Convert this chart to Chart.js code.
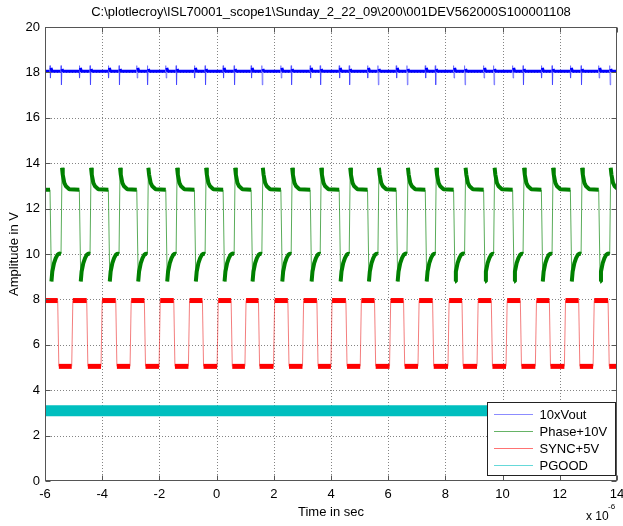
<!DOCTYPE html>
<html><head><meta charset="utf-8">
<style>html,body{margin:0;padding:0;background:#fff;}canvas{display:block;}</style>
<script src="https://cdn.jsdelivr.net/npm/chart.js@4/dist/chart.umd.min.js"></script>
</head><body>
<canvas id="c" width="623" height="526"></canvas>
<script>
// ---------- text ----------
const titleText = "C:\\plotlecroy\\ISL70001_scope1\\Sunday_2_22_09\\200\\001DEV562000S100001108";
const xTitle = "Time in sec";
const yTitle = "Amplitude in V";
const seriesNames = ["10xVout", "Phase+10V", "SYNC+5V", "PGOOD"];

// ---------- ticks ----------
const xTicks = [-6, -4, -2, 0, 2, 4, 6, 8, 10, 12, 14];
const yTicks = [0, 2, 4, 6, 8, 10, 12, 14, 16, 18, 20];

// ---------- SYNC+5V (edge times in µs, levels in V) ----------
const syncFall = [-5.556, -4.541, -3.526, -2.526, -1.497, -0.496, 0.508, 1.463, 2.492, 3.507,
                  4.521, 5.522, 6.537, 7.552, 8.580, 9.605, 10.620, 11.635, 12.660, 13.688];
const syncRise = [-5.066, -4.041, -3.026, -2.011, -0.986, 0.018, 0.990, 1.990, 3.003, 3.997,
                  5.022, 6.047, 7.041, 8.090, 9.105, 10.120, 11.145, 12.160, 13.164];
const syncHigh = 7.95, syncLow = 5.05, syncEdge = 0.04;

// ---------- Phase+10V ----------
const phaseFall = [-5.825, -4.800, -3.785, -2.791, -1.777, -0.776, 0.228, 1.208, 2.247, 3.272,
                   4.287, 5.277, 6.281, 7.296, 8.286, 9.336, 10.351, 11.355, 12.369, 13.360];
const phaseRise = [-5.440, -4.425, -3.411, -2.421, -1.416, -0.402, 0.613, 1.582, 2.607, 3.622,
                   4.637, 5.641, 6.656, 7.646, 8.671, 9.686, 10.715, 11.729, 12.744, 13.745];
// waveform read around each edge (offset after edge, value)
const phaseRiseDt = [0, 0.035, 0.06, 0.115, 0.175, 0.29];
const phaseRiseV  = [10.0, 13.8, 13.5, 13.13, 12.98, 12.85];
const phaseFallDt = [0, 0.05, 0.08, 0.14, 0.2, 0.26, 0.32];
const phaseFallV  = [12.83, 8.79, 9.23, 9.6, 9.82, 9.96, 10.02];
const phaseStart = 12.83;

// ---------- 10xVout ----------
const voutLevel = 18.05;
const voutSpikeDt = [-0.01, 0, 0.015, 0.035, 0.07];
const voutSpikeAtFallV = [18.05, 18.3, 17.75, 18.2, 18.05];
const voutSpikeAtRiseV = [18.05, 18.3, 17.45, 18.15, 18.05];

// ---------- PGOOD ----------
const pgoodT = [-6, 14];
const pgoodV = [3.1, 3.1];

// ---------- build point tables ----------
function buildSync() {
  const ev = syncFall.map(t => [t, 'f']).concat(syncRise.map(t => [t, 'r'])).sort((a, b) => a[0] - b[0]);
  const pts = [{x: -6, y: syncHigh}];
  let lvl = syncHigh;
  for (const [t, k] of ev) {
    if (k === 'f') { pts.push({x: t, y: syncHigh}, {x: t + syncEdge, y: syncLow}); lvl = syncLow; }
    else { pts.push({x: t, y: syncLow}, {x: t + syncEdge, y: syncHigh}); lvl = syncHigh; }
  }
  pts.push({x: 14, y: lvl});
  return pts;
}
function buildPhase() {
  const ev = phaseFall.map(t => [t, 'f']).concat(phaseRise.map(t => [t, 'r'])).sort((a, b) => a[0] - b[0]);
  const pts = [{x: -6, y: phaseStart}];
  let last = phaseStart;
  for (const [t, k] of ev) {
    const dt = k === 'f' ? phaseFallDt : phaseRiseDt;
    const v = k === 'f' ? phaseFallV : phaseRiseV;
    for (let i = 0; i < dt.length; i++) pts.push({x: t + dt[i], y: v[i]});
    last = v[v.length - 1];
  }
  pts.push({x: 14.4, y: last});
  return pts;
}
function buildVout() {
  const ev = phaseFall.map(t => [t, 'f']).concat(phaseRise.map(t => [t, 'r'])).sort((a, b) => a[0] - b[0]);
  const pts = [{x: -6, y: voutLevel}];
  for (const [t, k] of ev) {
    const v = k === 'f' ? voutSpikeAtFallV : voutSpikeAtRiseV;
    for (let i = 0; i < voutSpikeDt.length; i++) pts.push({x: t + voutSpikeDt[i], y: v[i]});
  }
  pts.push({x: 14, y: voutLevel});
  return pts;
}
const pgoodPts = pgoodT.map((t, i) => ({x: t, y: pgoodV[i]}));

const FONT = "'Liberation Sans', Arial, sans-serif";

function seg(band, thick, thin, limit) {
  const steep = c => Math.abs(c.p1.y - c.p0.y) > limit;
  return {
    borderWidth: c => steep(c) ? 1 : band,
    borderColor: c => steep(c) ? thin : thick
  };
}

const colors = ['#0000ff', '#008000', '#ff0000', '#00bfbf'];

const decor = {
  id: 'decor',
  beforeDatasetsDraw(chart) {
    const {ctx, chartArea: a, scales: {x, y}} = chart;
    ctx.save();
    ctx.strokeStyle = 'rgba(110,110,110,0.85)';
    ctx.lineWidth = 1;
    ctx.setLineDash([1, 2]);
    ctx.beginPath();
    xTicks.slice(1, -1).forEach(v => { const p = Math.round(x.getPixelForValue(v)) + 0.5; ctx.moveTo(p, a.top); ctx.lineTo(p, a.bottom); });
    yTicks.slice(1, -1).forEach(v => { const p = Math.round(y.getPixelForValue(v)) + 0.5; ctx.moveTo(a.left, p); ctx.lineTo(a.right, p); });
    ctx.stroke();
    ctx.restore();
  },
  afterDatasetsDraw(chart) {
    const {ctx, chartArea: a, scales: {x, y}} = chart;
    ctx.save();
    ctx.strokeStyle = '#555';
    ctx.lineWidth = 1;
    ctx.setLineDash([]);
    const L = Math.round(a.left) + 0.5, R = Math.round(a.right) - 0.5, T = Math.round(a.top) + 0.5, B = Math.round(a.bottom) - 0.5;
    ctx.strokeRect(L, T, R - L, B - T);
    ctx.beginPath();
    xTicks.forEach(v => { const p = Math.round(x.getPixelForValue(v)) + 0.5; ctx.moveTo(p, B); ctx.lineTo(p, B - 5); ctx.moveTo(p, T); ctx.lineTo(p, T + 5); });
    yTicks.forEach(v => { const p = Math.round(y.getPixelForValue(v)) + 0.5; ctx.moveTo(L, p); ctx.lineTo(L + 5, p); ctx.moveTo(R, p); ctx.lineTo(R - 5, p); });
    ctx.stroke();

    // legend (MATLAB SouthEast box)
    const bx = 487.5, by = 402.5, bw = 128, bh = 73;
    ctx.fillStyle = '#fff';
    ctx.fillRect(bx, by, bw, bh);
    ctx.strokeStyle = '#222';
    ctx.strokeRect(bx, by, bw, bh);
    ctx.font = '13px ' + FONT;
    ctx.textBaseline = 'middle';
    ctx.textAlign = 'left';
    const legendLine = ['rgba(0,0,255,0.45)', 'rgba(0,128,0,0.6)', 'rgba(255,0,0,0.55)', 'rgba(0,191,191,0.6)'];
    seriesNames.forEach((n, i) => {
      const ry = by + 11.5 + i * 17;
      ctx.strokeStyle = legendLine[i];
      ctx.beginPath(); ctx.moveTo(494, ry + 0.5); ctx.lineTo(533, ry + 0.5); ctx.stroke();
      ctx.fillStyle = '#000';
      ctx.fillText(n, 539.5, ry + 1);
    });
    ctx.restore();
  },
  afterDraw(chart) {
    const {ctx, chartArea: a} = chart;
    ctx.save();
    ctx.fillStyle = '#000';
    ctx.font = '13px ' + FONT;
    ctx.textAlign = 'center';
    ctx.textBaseline = 'alphabetic';
    ctx.fillText(titleText, (a.left + a.right) / 2, 16);
    ctx.fillText(xTitle, (a.left + a.right) / 2, 516);
    ctx.save();
    ctx.translate(18, (a.top + a.bottom) / 2);
    ctx.rotate(-Math.PI / 2);
    ctx.fillText(yTitle, 0, 0);
    ctx.restore();
    ctx.textAlign = 'left';
    ctx.font = '12px ' + FONT;
    ctx.fillText('x 10', 586, 520);
    ctx.font = '8px ' + FONT;
    ctx.fillText('-6', 608, 509);
    ctx.restore();
  }
};

new Chart(document.getElementById('c'), {
  type: 'line',
  data: {
    datasets: [
      {label: seriesNames[0], data: buildVout(), borderColor: colors[0], segment: seg(3, colors[0], 'rgba(60,60,255,0.55)', 4)},
      {label: seriesNames[1], data: buildPhase(), borderColor: colors[1], segment: seg(4, colors[1], 'rgba(0,128,0,0.65)', 12)},
      {label: seriesNames[2], data: buildSync(), borderColor: colors[2], segment: seg(5, colors[2], 'rgba(235,40,40,0.6)', 12)},
      {label: seriesNames[3], data: pgoodPts, borderColor: colors[3], borderWidth: 11}
    ]
  },
  options: {
    responsive: false,
    animation: false,
    devicePixelRatio: 1,
    layout: {padding: {top: 27, right: 6, left: 0, bottom: 0}},
    plugins: {legend: {display: false}, tooltip: {enabled: false}, title: {display: false}},
    elements: {point: {radius: 0}, line: {tension: 0, borderJoinStyle: 'bevel'}},
    scales: {
      x: {
        type: 'linear', min: -6, max: 14,
        afterBuildTicks: s => { s.ticks = xTicks.map(v => ({value: v})); },
        afterFit: s => { s.height = 45; s.paddingLeft = 0; s.paddingRight = 0; },
        grid: {display: false, drawTicks: false},
        border: {display: false},
        ticks: {color: '#000', font: {family: FONT, size: 13}, padding: 6, maxRotation: 0, autoSkip: false}
      },
      y: {
        type: 'linear', min: 0, max: 20,
        afterBuildTicks: s => { s.ticks = yTicks.map(v => ({value: v})); },
        afterFit: s => { s.width = 45; s.paddingTop = 0; s.paddingBottom = 0; },
        grid: {display: false, drawTicks: false},
        border: {display: false},
        ticks: {color: '#000', font: {family: FONT, size: 13}, padding: 5, autoSkip: false}
      }
    }
  },
  plugins: [decor]
});
</script>
</body></html>
